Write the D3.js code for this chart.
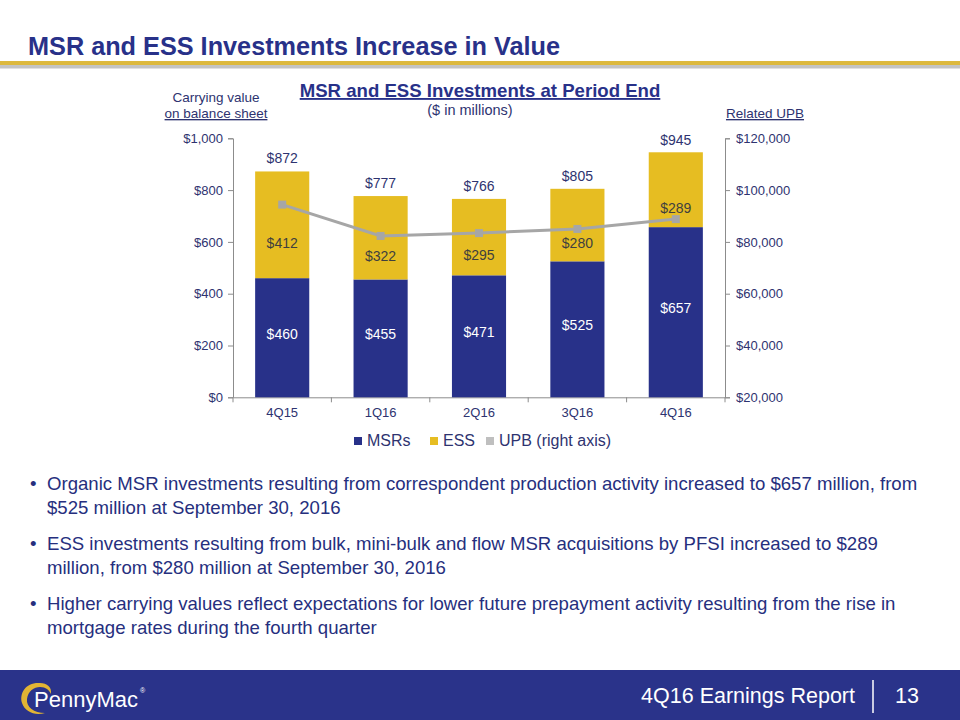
<!DOCTYPE html>
<html><head><meta charset="utf-8">
<script src="https://cdnjs.cloudflare.com/ajax/libs/d3/7.8.5/d3.min.js"></script>
<style>
html,body{margin:0;padding:0;background:#fff;}
svg{display:block;font-family:Arial,"Liberation Sans",sans-serif;}
</style></head>
<body>
<script>
const categories = ["4Q15","1Q16","2Q16","3Q16","4Q16"];
const msrValues = [460,455,471,525,657];
const essValues = [412,322,295,280,289];
const totalValues = [872,777,766,805,945];
const upbValues = [94400,82300,83400,85000,88800];
const leftTicks = [0,200,400,600,800,1000];
const rightTicks = [20000,40000,60000,80000,100000,120000];
const seriesNames = ["MSRs","ESS","UPB (right axis)"];
const bullets = [
  ["Organic MSR investments resulting from correspondent production activity increased to $657 million, from","$525 million at September 30, 2016"],
  ["ESS investments resulting from bulk, mini-bulk and flow MSR acquisitions by PFSI increased to $289","million, from $280 million at September 30, 2016"],
  ["Higher carrying values reflect expectations for lower future prepayment activity resulting from the rise in","mortgage rates during the fourth quarter"]
];

const NAVY="#283189", GOLD="#E6BD22", GRAY="#A6A6A6", TXT="#2E3370", DARK="#3F3F3F";
const W=960,H=720;
const svg=d3.select("body").append("svg").attr("width",W).attr("height",H);

// Header
svg.append("text").attr("x",28).attr("y",55).attr("font-size",25).attr("font-weight","bold")
  .attr("fill",NAVY).attr("textLength",532).attr("lengthAdjust","spacingAndGlyphs")
  .text("MSR and ESS Investments Increase in Value");
svg.append("rect").attr("x",0).attr("y",65).attr("width",W).attr("height",3.5).attr("fill","#C4C4C4");
svg.append("rect").attr("x",0).attr("y",61).attr("width",W).attr("height",4).attr("fill","#DDB93E");

// Chart titles
svg.append("text").attr("x",480).attr("y",97).attr("text-anchor","middle").attr("font-size",18.6)
  .attr("font-weight","bold").attr("fill",NAVY).attr("text-decoration","underline")
  .text("MSR and ESS Investments at Period End");
svg.append("text").attr("x",470).attr("y",115).attr("text-anchor","middle").attr("font-size",14.5)
  .attr("fill",TXT).text("($ in millions)");
svg.append("text").attr("x",216).attr("y",102).attr("text-anchor","middle").attr("font-size",13.5)
  .attr("fill",TXT).text("Carrying value");
svg.append("text").attr("x",216).attr("y",118).attr("text-anchor","middle").attr("font-size",13.5)
  .attr("fill",TXT).attr("text-decoration","underline").text("on balance sheet");
svg.append("text").attr("x",765).attr("y",118).attr("text-anchor","middle").attr("font-size",13.5)
  .attr("fill",TXT).attr("text-decoration","underline").text("Related UPB");

// Scales
const x0=233,x1=725,yB=397.3,yT=138.3;
const x=d3.scaleBand().domain(categories).range([x0,x1]).paddingInner(0.45).paddingOuter(0.225);
const y=d3.scaleLinear().domain([0,1000]).range([yB,yT]);
const yR=d3.scaleLinear().domain([20000,120000]).range([yB,yT]);

// Axes
const fmt=d=>"$"+d3.format(",")(d);
const gl=svg.append("g").attr("transform",`translate(${x0},0)`)
  .call(d3.axisLeft(y).tickValues(leftTicks).tickSize(5).tickPadding(5).tickFormat(fmt));
const gr=svg.append("g").attr("transform",`translate(${x1},0)`)
  .call(d3.axisRight(yR).tickValues(rightTicks).tickSize(5).tickPadding(6).tickFormat(fmt));
const gb=svg.append("g").attr("transform",`translate(0,${yB})`)
  .call(d3.axisBottom(x).tickSize(0).tickPadding(10));
[gl,gr,gb].forEach(g=>{
  g.selectAll("path,line").attr("stroke","#8C8C8C");
  g.selectAll("text").attr("font-size",13).attr("fill",TXT).attr("font-family","Arial,'Liberation Sans',sans-serif");
});
// category separator ticks on bottom axis
gb.selectAll(".sep").data(d3.range(categories.length+1)).enter().append("line")
  .attr("x1",i=>x0+i*(x1-x0)/categories.length).attr("x2",i=>x0+i*(x1-x0)/categories.length)
  .attr("y1",0).attr("y2",5).attr("stroke","#8C8C8C");

// Bars
const bars=svg.append("g");
bars.selectAll(".msr").data(categories).enter().append("rect")
  .attr("x",d=>x(d)).attr("width",x.bandwidth())
  .attr("y",(d,i)=>y(msrValues[i])).attr("height",(d,i)=>y(0)-y(msrValues[i])).attr("fill",NAVY);
bars.selectAll(".ess").data(categories).enter().append("rect")
  .attr("x",d=>x(d)).attr("width",x.bandwidth())
  .attr("y",(d,i)=>y(msrValues[i]+essValues[i])).attr("height",(d,i)=>y(msrValues[i])-y(msrValues[i]+essValues[i])).attr("fill",GOLD);

// Line
const cx=d=>x(d)+x.bandwidth()/2;
svg.append("path").datum(categories).attr("fill","none").attr("stroke",GRAY).attr("stroke-width",3)
  .attr("d",d3.line().x(d=>cx(d)).y((d,i)=>yR(upbValues[i])));
svg.selectAll(".mk").data(categories).enter().append("rect")
  .attr("x",d=>cx(d)-4).attr("y",(d,i)=>yR(upbValues[i])-4).attr("width",8).attr("height",8).attr("fill",GRAY);

// Labels
const lab=svg.append("g").attr("text-anchor","middle").attr("font-size",14);
lab.selectAll(".m").data(categories).enter().append("text")
  .attr("x",cx).attr("y",(d,i)=>(y(0)+y(msrValues[i]))/2+1).attr("fill","#fff").text((d,i)=>"$"+msrValues[i]);
lab.selectAll(".e").data(categories).enter().append("text")
  .attr("x",cx).attr("y",(d,i)=>(y(msrValues[i])+y(msrValues[i]+essValues[i]))/2+18+5).attr("fill",DARK).text((d,i)=>"$"+essValues[i]);
lab.selectAll(".t").data(categories).enter().append("text")
  .attr("x",cx).attr("y",(d,i)=>y(totalValues[i])-8).attr("fill",TXT).text((d,i)=>"$"+totalValues[i]);

// Legend
const leg=svg.append("g").attr("font-size",16).attr("fill",TXT);
const legItems=[{n:seriesNames[0],c:NAVY,x:354},{n:seriesNames[1],c:GOLD,x:430},{n:seriesNames[2],c:"#BFBFBF",x:486}];
legItems.forEach(it=>{
  leg.append("rect").attr("x",it.x).attr("y",437).attr("width",8).attr("height",8).attr("fill",it.c);
  leg.append("text").attr("x",it.x+13).attr("y",446).attr("fill",TXT).text(it.n);
});

// Bullets
const bl=svg.append("g").attr("font-size",18.6).attr("fill","#262F7E");
bullets.forEach((b,i)=>{
  const by=490+i*60;
  bl.append("text").attr("x",30).attr("y",by).text("•");
  b.forEach((line,j)=>bl.append("text").attr("x",47).attr("y",by+j*24).text(line));
});

// Footer
svg.append("rect").attr("x",0).attr("y",670).attr("width",W).attr("height",50).attr("fill","#2A338A");
svg.append("text").attr("x",855).attr("y",703).attr("text-anchor","end").attr("font-size",21.5).attr("fill","#fff").text("4Q16 Earnings Report");
svg.append("line").attr("x1",873).attr("x2",873).attr("y1",680).attr("y2",713).attr("stroke","#fff").attr("stroke-width",1.5);
svg.append("text").attr("x",895).attr("y",703).attr("font-size",21.5).attr("fill","#fff").text("13");
// logo
const lg=svg.append("g");
lg.append("path").attr("d","M40,683 C26,682 19,693 22,703 C25,712 35,716 45,713 C34,713 26,707 27,699 C28,691 34,687 40,687 C46,687 49,690 51,694 C52,687 47,683 40,683 Z").attr("fill","#E2B434");
const pm=lg.append("text").attr("x",34).attr("y",707).attr("font-size",22).attr("fill","#fff").text("PennyMac");
const pmEnd=34+pm.node().getComputedTextLength();
lg.append("text").attr("x",pmEnd+2).attr("y",693).attr("font-size",7).attr("fill","#fff").text("®");
</script>
</body></html>
